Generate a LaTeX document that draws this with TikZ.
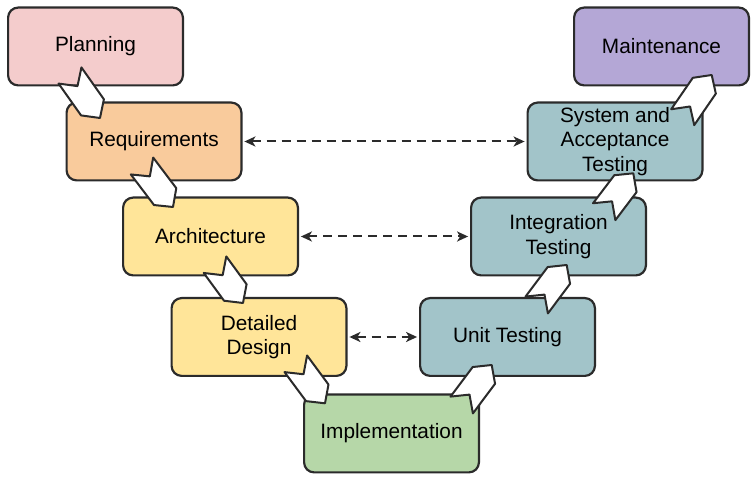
\documentclass[tikz,border=0pt]{standalone}
\usepackage{fontspec}
\setmainfont{Liberation Sans}
\usetikzlibrary{arrows.meta,calc}
\pgfdeclarelayer{boxes}
\pgfdeclarelayer{chevrons}
\pgfsetlayers{boxes,chevrons,main}

\definecolor{planfill}{HTML}{F4CCCC}
\definecolor{reqfill}{HTML}{F9CB9C}
\definecolor{designfill}{HTML}{FFE599}
\definecolor{implfill}{HTML}{B6D7A8}
\definecolor{testfill}{HTML}{A2C4C9}
\definecolor{maintfill}{HTML}{B4A7D6}
\definecolor{edge}{HTML}{2B2B2B}

% white step arrow from tail #1 to tip #2
\newcommand{\chevron}[2]{%
  \draw[chev] ($(#1)!7pt!90:(#2)$) -- ($(#2)!9.55pt!-47:(#1)$) -- (#2)
    -- ($(#2)!9.55pt!47:(#1)$) -- ($(#1)!7pt!-90:(#2)$) -- ($(#1)!6.5pt!(#2)$) -- cycle;}

\begin{document}
\begin{tikzpicture}
[x=0.5pt,y=0.5pt,
 phase/.style={rectangle,inner sep=0pt,minimum width=87pt,minimum height=38.5pt,align=center,font=\fontsize{10.4}{12.2}\selectfont,text=black},
 frame/.style={draw=edge,line width=1.1pt,rounded corners=5pt},
 chev/.style={draw=edge,fill=white,line width=1pt,line join=round},
 link/.style={draw=edge,line width=1pt,dash pattern=on 4.5pt off 3pt,{Stealth[length=5.5pt,width=5pt,inset=1.5pt]}-{Stealth[length=5.5pt,width=5pt,inset=1.5pt]},shorten <=1.5pt,shorten >=1.5pt}]
\useasboundingbox (0,0) rectangle (756,482);

\node[phase] (plan) at (95.5,435.5) {Planning};
\node[phase] (req) at (154,340.5) {Requirements};
\node[phase] (arch) at (210.5,245.5) {Architecture};
\node[phase] (det) at (259,145) {Detailed\\Design};
\node[phase] (impl) at (391.5,48.5) {Implementation};
\node[phase] (unit) at (507.5,145) {Unit Testing};
\node[phase] (integ) at (558.5,245.5) {Integration\\Testing};
\node[phase] (sys) at (615,340.5) {System and\\Acceptance\\Testing};
\node[phase] (maint) at (661.5,435.5) {Maintenance};

\begin{pgfonlayer}{boxes}
\foreach \n/\c in {plan/planfill,req/reqfill,arch/designfill,det/designfill,impl/implfill,unit/testfill,integ/testfill,sys/testfill,maint/maintfill}
  \draw[frame,fill=\c] (\n.south west) rectangle (\n.north east);
\end{pgfonlayer}

% tails and tips of the step arrows
\coordinate (t1) at (70,406.5);    \coordinate (h1) at (100,364);
\coordinate (t2) at (142,316);     \coordinate (h2) at (173,275);
\coordinate (t3) at (215,217.3);   \coordinate (h3) at (243,179);
\coordinate (t4) at (295.8,118.2); \coordinate (h4) at (325,78.7);
\coordinate (t5) at (461.7,77);    \coordinate (h5) at (491.7,117);
\coordinate (t6) at (536.7,177);   \coordinate (h6) at (566.7,217);
\coordinate (t7) at (604.2,270.3); \coordinate (h7) at (633.3,308.7);
\coordinate (t8) at (682.7,364.8); \coordinate (h8) at (711.7,407);

\begin{pgfonlayer}{chevrons}
\foreach \i in {1,...,8}
  \chevron{t\i}{h\i};
\end{pgfonlayer}

\draw[link] (req) -- (sys);
\draw[link] (arch) -- (integ);
\draw[link] (det) -- (unit);
\end{tikzpicture}
\end{document}
